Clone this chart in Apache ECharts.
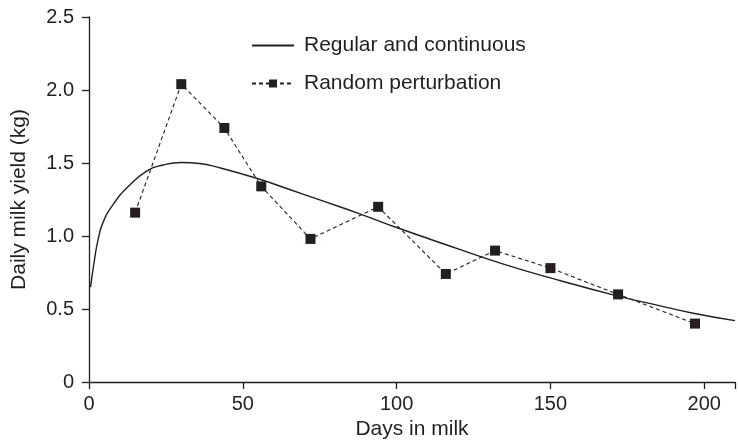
<!DOCTYPE html>
<html>
<head>
<meta charset="utf-8">
<script src="https://cdn.jsdelivr.net/npm/echarts@6/dist/echarts.min.js"></script>
<style>html,body{margin:0;padding:0;background:#fff}#c{width:738px;height:445px}</style>
</head>
<body>
<div id="c"></div>
<script>
// Regular and continuous curve
var curveDays  = [0.5, 1.8, 2.9, 4.5, 7.8, 13, 19, 24, 30, 36, 42, 55, 65, 75, 88, 100, 120, 135, 150, 172, 185, 196, 210];
var curveYield = [0.65, 0.84, 0.97, 1.09, 1.215, 1.345, 1.448, 1.486, 1.503, 1.497, 1.47, 1.392, 1.32, 1.247, 1.152, 1.058, 0.912, 0.806, 0.713, 0.588, 0.525, 0.473, 0.42];
// Random perturbation points
var pertDays  = [15, 30, 44, 56, 72, 94, 116, 132, 150, 172, 197];
var pertYield = [1.16, 2.04, 1.74, 1.34, 0.98, 1.20, 0.74, 0.90, 0.78, 0.60, 0.40];
var xTicks = [0, 50, 100, 150, 200];
var yTicks = [0, 0.5, 1.0, 1.5, 2.0, 2.5];

function zip(a, b){ return a.map(function(v,i){ return [v, b[i]]; }); }
var ink = '#231f20';
var font = 'Liberation Sans, Arial, Helvetica, sans-serif';
var chart = echarts.init(document.getElementById('c'));
chart.setOption({
  animation: false,
  backgroundColor: '#fff',
  grid: { left: 89, top: 17, right: 0, bottom: 63 },
  legend: {
    orient: 'vertical', left: 246, top: 30,
    itemWidth: 42, itemHeight: 10, itemGap: 17,
    textStyle: { color: ink, fontSize: 21, fontFamily: font, padding: [0,0,0,5] },
    data: [
      { name: 'Regular and continuous', itemStyle: { opacity: 0 } },
      { name: 'Random perturbation' }
    ]
  },
  xAxis: {
    type: 'value', min: 0, max: 210, interval: 50,
    name: 'Days in milk', nameLocation: 'middle', nameGap: 36,
    nameTextStyle: { color: ink, fontSize: 21, fontFamily: font },
    splitLine: { show: false },
    axisLine: { lineStyle: { color: ink, width: 1.3 } },
    axisTick: { length: 7, lineStyle: { color: ink, width: 1.3 } },
    axisLabel: { color: ink, fontSize: 20, fontFamily: font, margin: 12,
      formatter: function(v){ return xTicks.indexOf(v) >= 0 ? String(v) : ''; } }
  },
  yAxis: {
    type: 'value', min: 0, max: 2.5, interval: 0.5,
    name: 'Daily milk yield (kg)', nameLocation: 'middle', nameGap: 59,
    nameTextStyle: { color: ink, fontSize: 21, fontFamily: font },
    splitLine: { show: false },
    axisLine: { show: true, lineStyle: { color: ink, width: 1.3 } },
    axisTick: { show: true, length: 7, lineStyle: { color: ink, width: 1.3 } },
    axisLabel: { color: ink, fontSize: 20, fontFamily: font, margin: 15,
      formatter: function(v){ return v === 0 ? '0' : v.toFixed(1); } }
  },
  series: [
    {
      name: 'Regular and continuous', type: 'line',
      data: zip(curveDays, curveYield),
      smooth: 0.5, symbol: 'none',
      lineStyle: { color: ink, width: 1.4 },
      itemStyle: { color: ink }
    },
    {
      name: 'Random perturbation', type: 'line',
      data: zip(pertDays, pertYield),
      symbol: 'rect', symbolSize: 10,
      lineStyle: { color: ink, width: 1.1, type: [4, 3] },
      itemStyle: { color: ink }
    }
  ]
});
</script>
</body>
</html>
